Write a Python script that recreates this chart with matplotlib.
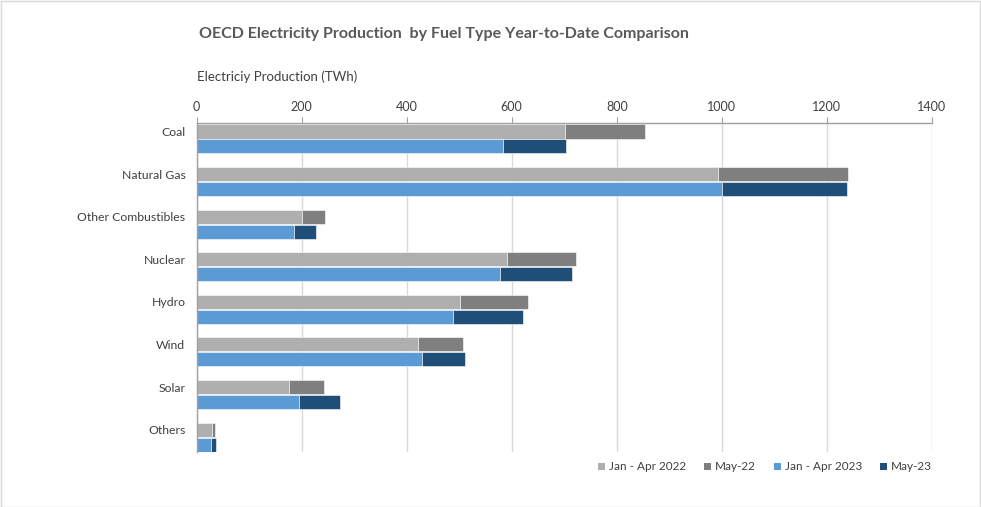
import matplotlib
matplotlib.use("Agg")
import matplotlib.pyplot as plt
import numpy as np
from matplotlib.patches import Rectangle, Patch

categories = ["Coal", "Natural Gas", "Other Combustibles", "Nuclear", "Hydro", "Wind", "Solar", "Others"]
jan_apr_2022 = [702, 992, 200, 591, 502, 422, 177, 29]
may_22 = [151, 248, 44, 132, 129, 85, 66, 6]
jan_apr_2023 = [583, 1000, 185, 578, 488, 429, 196, 28]
may_23 = [121, 239, 43, 136, 133, 83, 77, 9]
series_names = ["Jan - Apr 2022", "May-22", "Jan - Apr 2023", "May-23"]
colors = ["#AFAFAF", "#7F7F7F", "#5B9BD5", "#1F4E79"]
xticks = [0, 200, 400, 600, 800, 1000, 1200, 1400]

plt.rcParams['font.family'] = ['Lato', 'DejaVu Sans']
txt = "#404040"

fig = plt.figure(figsize=(9.81, 5.07), dpi=100)
ax = fig.add_axes([196.5/981, 1-452/507, (932-196.5)/981, (452-123)/507])

y = np.arange(len(categories))
h = 0.33
off = 0.175
kw = dict(height=h, edgecolor="white", linewidth=0.4, zorder=3)
ax.barh(y - off, jan_apr_2022, color=colors[0], **kw)
ax.barh(y - off, may_22, left=jan_apr_2022, color=colors[1], **kw)
ax.barh(y + off, jan_apr_2023, color=colors[2], **kw)
ax.barh(y + off, may_23, left=jan_apr_2023, color=colors[3], **kw)

ax.set_ylim(7.35, -0.375)
ax.set_xlim(0, 1400)
ax.set_yticks(y - off)
ax.set_yticklabels(categories, fontsize=8.8, color=txt)
ax.tick_params(axis='y', length=0, pad=8)
ax.xaxis.tick_top()
ax.set_xticks(xticks)
ax.set_xticklabels([str(v) for v in xticks], fontsize=9, color=txt)
ax.tick_params(axis='x', length=4, color="#A0A0A0", pad=3.5, direction='out')
ax.grid(axis='x', color="#D9D9D9", linewidth=1, zorder=0)
for s in ["right", "bottom"]:
    ax.spines[s].set_visible(False)
for s in ["top", "left"]:
    ax.spines[s].set_color("#A0A0A0")
    ax.spines[s].set_linewidth(1)
    ax.spines[s].set_zorder(4)

fig.text(443.5/981, 1-34/507, "OECD Electricity Production  by Fuel Type Year-to-Date Comparison",
         ha="center", va="center", fontsize=11.5, fontweight="bold", color="#595959")
fig.text(197/981, 1-77/507, "Electriciy Production (TWh)", ha="left", va="center",
         fontsize=9.5, color=txt)

handles = [Patch(facecolor=c, edgecolor="none") for c in colors]
leg = fig.legend(handles, series_names, loc="center right", bbox_to_anchor=(932/981, 1-467/507),
                 ncol=4, frameon=False, fontsize=8.5, handlelength=0.6, handleheight=0.6,
                 handletextpad=0.35, columnspacing=1.5, labelcolor=txt,
                 borderpad=0, borderaxespad=0)

fig.patches.append(Rectangle((0.5/981, 0.5/507), 1-1.5/981, 1-1.5/507, transform=fig.transFigure,
                             fill=False, edgecolor="#D9D9D9", linewidth=1))

fig.savefig("out.png", dpi=100)
